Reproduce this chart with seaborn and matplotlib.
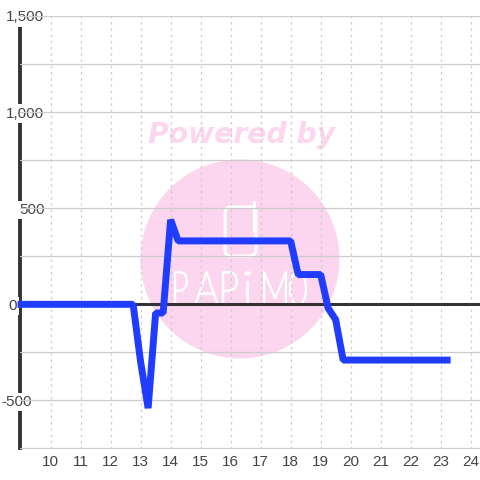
import pandas as pd
import matplotlib
matplotlib.use('Agg')
import matplotlib.pyplot as plt
import seaborn as sns
from matplotlib.font_manager import FontProperties
from matplotlib.patches import Circle, FancyBboxPatch, PathPatch, Rectangle
from matplotlib.textpath import TextPath
from matplotlib.transforms import Affine2D

# values
hours = [8.9, 12.75, 13, 13.25, 13.5, 13.75, 14, 14.25, 18, 18.25, 19, 19.25, 19.5, 19.75, 23.33]
power = [0, 0, -300, -540, -45, -45, 440, 330, 330, 155, 155, -20, -80, -290, -290]
x_ticks = list(range(10, 25))
y_ticks = [-500, 0, 500, 1000, 1500]
y_labels = ['-500', '0', '500', '1,000', '1,500']
y_minor = [-750, -250, 250, 750, 1250]
logo_text = 'PAPiMO'
watermark = 'Powered by'

df = pd.DataFrame({'hour': hours, 'power': power})

sns.set_style('white')
plt.rcParams['font.family'] = ['Liberation Sans', 'DejaVu Sans']

fig = plt.figure(figsize=(4.8, 4.8), dpi=100)
ax = fig.add_axes([20 / 480, 1 - 448.5 / 480, 460 / 480, 432.5 / 480])
ax.patch.set_visible(False)

# watermark sits behind the axes
pink = '#fcd5ee'
fig.add_artist(Circle((240 / 480, 1 - 259 / 480), 99.5 / 480, transform=fig.transFigure, color=pink, lw=0, zorder=-3))
fig.add_artist(FancyBboxPatch((225 / 480, 1 - 256 / 480), 31 / 480, 49 / 480, boxstyle='round,pad=0,rounding_size=0.0125',
                              transform=fig.transFigure, fc='none', ec='white', lw=2.2, zorder=-2))
fig.add_artist(Rectangle((253.5 / 480, 1 - 232 / 480), 3 / 480, 31 / 480, transform=fig.transFigure, color='white', lw=0, zorder=-2))

# logo letters are squeezed into their own boxes
letter_left = [175, 195, 223, 245, 264, 290]
letter_right = [187, 218, 237, 250, 286, 306]
logo_font = FontProperties(family='Lato', weight='light')
for ch, x0, x1 in zip(logo_text, letter_left, letter_right):
    tp = TextPath((0, 0), ch, size=10, prop=logo_font)
    ext = tp.get_extents()
    tr = (Affine2D().translate(-ext.x0, -ext.y0).scale((x1 - x0) / ext.width, 33 / ext.height)
          .translate(x0, 480 - 305))
    fig.add_artist(PathPatch(tp, transform=tr, fc='white', ec='white', lw=1.3, zorder=-2))

fig.text(242 / 480, 1 - 135 / 480, watermark, color=pink, fontsize=20.3, family='DejaVu Sans', weight='bold',
         style='oblique', ha='center', va='center', zorder=-2)

ax.axhline(0, color='#333333', lw=2.2, zorder=1)
sns.lineplot(data=df, x='hour', y='power', color='#1f3cff', linewidth=5, ax=ax, zorder=2, clip_on=False,
             solid_joinstyle='bevel', solid_capstyle='butt', errorbar=None)

ax.set_xlim(8.98, 24.31)
ax.set_ylim(-750, 1500)
ax.set_xlabel('')
ax.set_ylabel('')
ax.set_xticks(x_ticks)
ax.set_yticks(y_ticks)
ax.set_yticklabels([])
ax.set_yticks(y_minor, minor=True)

ax.set_axisbelow(True)
ax.grid(True, axis='y', which='both', color='#cccccc', lw=0.9)
ax.grid(True, axis='x', color='#cccccc', lw=0.9, ls=(0, (2, 3)))
ax.tick_params(axis='both', which='both', length=0, labelsize=11, labelcolor='#444444')
ax.tick_params(axis='x', pad=5)

for s in ['top', 'right', 'bottom']:
    ax.spines[s].set_visible(False)
ax.spines['left'].set_color('#333333')
ax.spines['left'].set_linewidth(2.8)
ax.spines['left'].set_zorder(0.2)

# the labels sit on top of the axis line, each with its own right edge
label_right = [32, 17, 45, 44, 44]
for val, lab, right in zip(y_ticks, y_labels, label_right):
    ax.annotate(lab, xy=(0, val), xycoords=ax.get_yaxis_transform(), xytext=(right - 20, -1.5), textcoords='offset pixels',
                ha='right', va='center', fontsize=11, color='#444444', zorder=0.5,
                bbox=dict(fc='white', ec='none', pad=1.5))

fig.savefig('out.png', dpi=100)
